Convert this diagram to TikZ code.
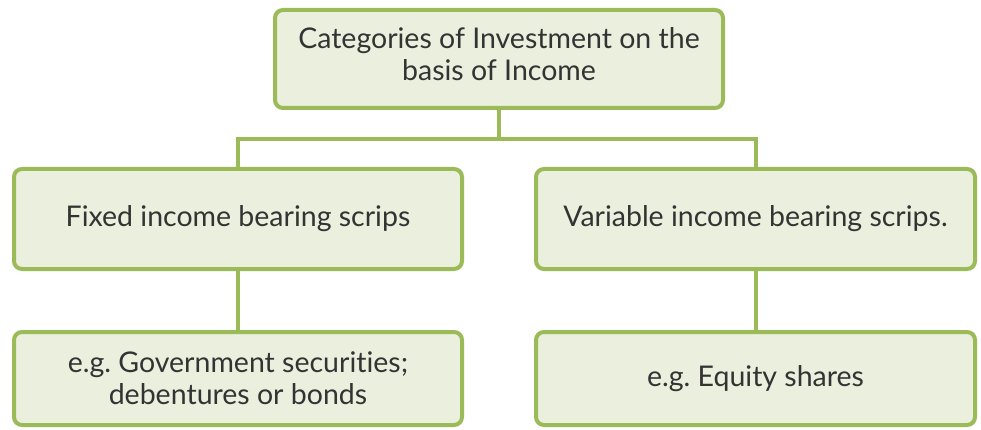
\documentclass[tikz,border=0pt]{standalone}
\usepackage{fontspec}
\setmainfont{Lato}[Ligatures=NoCommon]
\usepackage{xcolor}
\definecolor{boxgreen}{HTML}{9BBB59}
\definecolor{boxfill}{HTML}{EBEFDE}
\definecolor{boxtext}{HTML}{333333}
\frenchspacing
\tikzset{catbox/.style={draw=boxgreen,fill=boxfill,line width=4pt,rounded corners=8pt,
    text=boxtext,align=center,font=\fontsize{28.5}{32}\selectfont,inner sep=0pt},
  catline/.style={draw=boxgreen,line width=4pt}}

\begin{document}
\begin{tikzpicture}[x=1pt,y=-1pt]
  \useasboundingbox (0,0) rectangle (981,430);

  \node [catbox,minimum width=448pt,minimum height=98pt] (top) at (499,59)
    {Categories of Investment on the\\basis of Income\\[-22pt]};

  \node [catbox,minimum width=448pt,minimum height=100pt] (fixed) at (238,219)
    {Fixed income bearing scrips};
  \node [catbox,minimum width=439pt,minimum height=100pt] (variable) at (755.5,219)
    {Variable income bearing scrips.};

  \node [catbox,minimum width=448pt,minimum height=93pt] (fixedeg) at (238,378.5)
    {e.g. Government securities;\\debentures or bonds};
  \node [catbox,minimum width=439pt,minimum height=93pt] (variableeg) at (755.5,378.5)
    {e.g. Equity shares};

  \draw [catline] (top.south) -- ++(0,29) coordinate (split);
  \draw [catline] (fixed.north) |- (split) -| (variable.north);
  \draw [catline] (fixed.south) -- (fixedeg.north);
  \draw [catline] (variable.south) -- (variableeg.north);
\end{tikzpicture}
\end{document}
